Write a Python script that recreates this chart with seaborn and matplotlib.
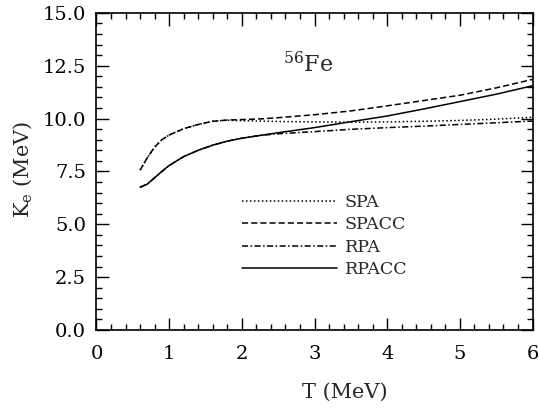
import matplotlib
matplotlib.use("Agg")
import matplotlib.pyplot as plt
from matplotlib.ticker import MultipleLocator, FormatStrFormatter
from matplotlib.lines import Line2D
import pandas as pd
import seaborn as sns

# Temperature grid (MeV)
T = [0.6, 0.7, 0.8, 0.9, 1.0, 1.2, 1.4, 1.6, 1.8, 2.0, 2.25, 2.5,
     3.0, 3.5, 4.0, 4.5, 5.0, 5.5, 6.0]

# Excitation energy K_e (MeV) for each approximation
spa = [7.56, 8.15, 8.65, 9.00, 9.22, 9.52, 9.72, 9.87, 9.92, 9.90, 9.88, 9.86,
       9.84, 9.83, 9.84, 9.87, 9.91, 9.97, 10.06]
spacc = [7.56, 8.15, 8.65, 9.00, 9.22, 9.52, 9.72, 9.87, 9.93, 9.95, 9.98, 10.04,
         10.18, 10.36, 10.60, 10.85, 11.10, 11.45, 11.85]
rpa = [6.75, 6.90, 7.20, 7.50, 7.78, 8.20, 8.50, 8.74, 8.93, 9.07, 9.20, 9.28,
       9.38, 9.49, 9.57, 9.64, 9.72, 9.80, 9.88]
rpacc = [6.75, 6.90, 7.20, 7.50, 7.78, 8.20, 8.50, 8.74, 8.93, 9.07, 9.20, 9.33,
         9.57, 9.85, 10.12, 10.45, 10.80, 11.15, 11.55]

models = ["SPA", "SPACC", "RPA", "RPACC"]
series = [spa, spacc, rpa, rpacc]

df = pd.concat(
    [pd.DataFrame({"T": T, "Ke": vals, "model": name}) for name, vals in zip(models, series)],
    ignore_index=True,
)

sns.set_style("ticks")
plt.rcParams["font.family"] = ["DejaVu Serif"]
plt.rcParams["mathtext.fontset"] = "dejavuserif"

dash_styles = {
    "SPA": (1, 1.6),
    "SPACC": (4, 2),
    "RPA": (4, 1.6, 1, 1.6),
    "RPACC": "",
}

fig = plt.figure(figsize=(5.39, 4.13), dpi=100)
ax = fig.add_axes([0.179, 0.201, 0.809, 0.768])

sns.lineplot(data=df, x="T", y="Ke", style="model", style_order=models,
             dashes=dash_styles, color="black", linewidth=1.1, ax=ax,
             legend=False, estimator=None, sort=True)

ax.set_xlim(0, 6)
ax.set_ylim(0, 15)
ax.xaxis.set_major_locator(MultipleLocator(1))
ax.xaxis.set_minor_locator(MultipleLocator(0.2))
ax.yaxis.set_major_locator(MultipleLocator(2.5))
ax.yaxis.set_minor_locator(MultipleLocator(0.5))
ax.yaxis.set_major_formatter(FormatStrFormatter("%.1f"))

ax.tick_params(which="both", direction="in", top=True, right=True,
               color="black", width=1.0)
ax.tick_params(which="major", length=9, labelsize=14, labelcolor="black")
ax.tick_params(which="minor", length=4)
ax.tick_params(axis="x", which="major", pad=10.5)
ax.tick_params(axis="y", which="major", pad=7.5)
for sp in ax.spines.values():
    sp.set_linewidth(1.2)
    sp.set_color("black")
    sp.set_visible(True)

ax.set_xlabel("T (MeV)", fontsize=15)
ax.xaxis.set_label_coords(0.570, -0.165)
ax.set_ylabel(r"K$_\mathrm{e}$ (MeV)", fontsize=15, va="center")
ax.yaxis.set_label_coords(-0.169, 0.507)

ax.text(2.91, 12.55, r"$^{56}$Fe", fontsize=16, ha="center", va="center")

handles = [Line2D([], [], color="black", linewidth=1.1,
                  linestyle=(0, dash_styles[m]) if dash_styles[m] else "-")
           for m in models]
ax.legend(handles, models, loc="upper left", bbox_to_anchor=(0.333, 0.428),
          frameon=False, fontsize=12.5, handlelength=5.5, handletextpad=0.45,
          labelspacing=0.3, borderpad=0, borderaxespad=0)

fig.savefig("out.png", dpi=100)
